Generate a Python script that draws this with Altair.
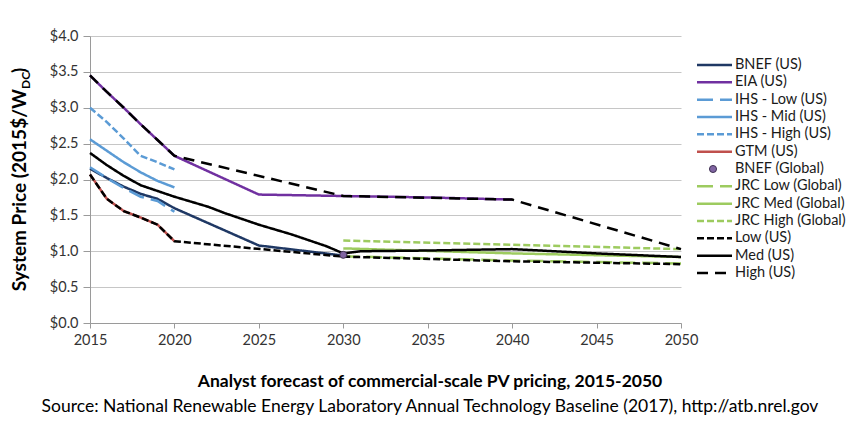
import altair as alt
import pandas as pd

FONT = "Lato"

# ---------------- data ----------------
series_names = [
    "BNEF (US)", "EIA (US)", "IHS - Low (US)", "IHS - Mid (US)", "IHS - High (US)",
    "GTM (US)", "BNEF (Global)", "JRC Low (Global)", "JRC Med (Global)",
    "JRC High (Global)", "Low (US)", "Med (US)", "High (US)",
]

bnef_us_years = [2015, 2016, 2017, 2018, 2019, 2020, 2025, 2030]
bnef_us_vals = [2.15, 2.02, 1.90, 1.80, 1.73, 1.60, 1.08, 0.94]

eia_years = [2015, 2016, 2017, 2018, 2019, 2020, 2025, 2030, 2035, 2040]
eia_vals = [3.45, 3.22, 3.00, 2.77, 2.55, 2.33, 1.79, 1.77, 1.75, 1.72]

ihs_years = [2015, 2016, 2017, 2018, 2019, 2020]
ihs_low_vals = [2.17, 2.02, 1.88, 1.76, 1.70, 1.55]
ihs_mid_vals = [2.56, 2.40, 2.24, 2.10, 1.98, 1.89]
ihs_high_vals = [3.00, 2.80, 2.57, 2.33, 2.24, 2.14]

gtm_years = [2015, 2016, 2017, 2018, 2019, 2020]
gtm_vals = [2.07, 1.73, 1.56, 1.47, 1.37, 1.14]

bnef_global_years = [2030]
bnef_global_vals = [0.95]

jrc_years = [2030, 2040, 2050]
jrc_low_vals = [0.93, 0.87, 0.83]
jrc_med_vals = [1.04, 0.97, 0.92]
jrc_high_vals = [1.15, 1.09, 1.03]

low_years = [2015, 2016, 2017, 2018, 2019, 2020, 2030, 2040, 2050]
low_vals = [2.07, 1.73, 1.56, 1.47, 1.37, 1.14, 0.925, 0.86, 0.82]

med_years = [2015, 2016, 2017, 2018, 2019, 2020, 2021, 2022, 2023, 2024, 2025,
             2026, 2027, 2028, 2029, 2030, 2031, 2035, 2040, 2045, 2050]
med_vals = [2.37, 2.20, 2.05, 1.92, 1.84, 1.76, 1.69, 1.62, 1.53, 1.45, 1.37,
            1.30, 1.23, 1.15, 1.07, 0.97, 1.00, 1.01, 1.03, 0.97, 0.92]

high_years = [2015, 2016, 2017, 2018, 2019, 2020, 2030, 2040, 2050]
high_vals = [3.45, 3.22, 3.00, 2.77, 2.55, 2.33, 1.77, 1.72, 1.03]

x_ticks = [2015, 2020, 2025, 2030, 2035, 2040, 2045, 2050]
y_ticks = [0, 0.5, 1.0, 1.5, 2.0, 2.5, 3.0, 3.5, 4.0]

# ---------------- styles ----------------
NAVY = "#1F3864"
PURPLE = "#7030A0"
BLUE = "#5B9BD5"
RED = "#C0504D"
PT = "#8064A2"
GREEN = "#9DCB5F"
BLACK = "#000000"
SOLID = [1, 0]
LONG = [16, 7]
SHORT = [7, 3]
DASH = [11, 7]

series_data = {
    "BNEF (US)": (bnef_us_years, bnef_us_vals),
    "EIA (US)": (eia_years, eia_vals),
    "IHS - Low (US)": (ihs_years, ihs_low_vals),
    "IHS - Mid (US)": (ihs_years, ihs_mid_vals),
    "IHS - High (US)": (ihs_years, ihs_high_vals),
    "GTM (US)": (gtm_years, gtm_vals),
    "BNEF (Global)": (bnef_global_years, bnef_global_vals),
    "JRC Low (Global)": (jrc_years, jrc_low_vals),
    "JRC Med (Global)": (jrc_years, jrc_med_vals),
    "JRC High (Global)": (jrc_years, jrc_high_vals),
    "Low (US)": (low_years, low_vals),
    "Med (US)": (med_years, med_vals),
    "High (US)": (high_years, high_vals),
}
style = {
    "BNEF (US)": (NAVY, SOLID),
    "EIA (US)": (PURPLE, SOLID),
    "IHS - Low (US)": (BLUE, LONG),
    "IHS - Mid (US)": (BLUE, SOLID),
    "IHS - High (US)": (BLUE, SHORT),
    "GTM (US)": (RED, SOLID),
    "BNEF (Global)": (PT, SOLID),
    "JRC Low (Global)": (GREEN, LONG),
    "JRC Med (Global)": (GREEN, SOLID),
    "JRC High (Global)": (GREEN, SHORT),
    "Low (US)": (BLACK, SHORT),
    "Med (US)": (BLACK, SOLID),
    "High (US)": (BLACK, DASH),
}

W, H = 591, 287

x_enc = alt.X(
    "year:Q",
    scale=alt.Scale(domain=[2015, 2050], nice=False, zero=False),
    axis=alt.Axis(values=x_ticks, format="d", title=None, grid=False,
                  tickSize=5, labelPadding=5, labelFlush=False, labelOverlap=False),
)
y_enc = alt.Y(
    "value:Q",
    scale=alt.Scale(domain=[0, 4], nice=False),
    axis=alt.Axis(values=y_ticks, format="$.1f", title=None, grid=True,
                  tickSize=7, labelPadding=5, labelFlush=False, labelOverlap=False),
)

layers = []
for name in series_names:
    if name == "BNEF (Global)":
        continue
    yrs, vals = series_data[name]
    df = pd.DataFrame({"year": yrs, "value": vals})
    color, dash = style[name]
    layers.append(
        alt.Chart(df).mark_line(color=color, strokeDash=dash, strokeWidth=2.5)
        .encode(x=x_enc, y=y_enc)
    )
gdf = pd.DataFrame({"year": bnef_global_years, "value": bnef_global_vals})
layers.append(
    alt.Chart(gdf).mark_point(filled=True, fill=PT, stroke="#3F3151",
                              strokeWidth=1, size=50, opacity=1)
    .encode(x=x_enc, y=y_enc)
)
main = alt.layer(*layers)

# ---------------- legend ----------------
leg_df = pd.DataFrame({"name": series_names})
leg_y = alt.Y("name:N", scale=alt.Scale(type="point", domain=series_names,
                                        range=[29, 237], padding=0), axis=None)
col_scale = alt.Scale(domain=series_names, range=[style[n][0] for n in series_names])
dash_scale = alt.Scale(domain=series_names, range=[style[n][1] for n in series_names])

leg_lines = alt.Chart(leg_df).transform_filter(
    alt.datum.name != "BNEF (Global)"
).mark_rule(strokeWidth=2.5).encode(
    x=alt.value(607), x2=alt.value(642), y=leg_y,
    color=alt.Color("name:N", scale=col_scale, legend=None),
    strokeDash=alt.StrokeDash("name:N", scale=dash_scale, legend=None),
)
leg_pt = alt.Chart(leg_df).transform_filter(
    alt.datum.name == "BNEF (Global)"
).mark_point(filled=True, fill=PT, stroke="#3F3151", strokeWidth=1, size=50,
             opacity=1).encode(x=alt.value(623), y=leg_y)
leg_text = alt.Chart(leg_df).mark_text(
    align="left", baseline="middle", font=FONT, fontSize=14.5, color="#1a1a1a"
).encode(x=alt.value(645), y=leg_y, text="name:N")
legend = alt.layer(leg_lines, leg_pt, leg_text)

# ---------------- titles ----------------
one = pd.DataFrame({"a": [0]})
ytitle_main = alt.Chart(one).mark_text(
    text="System Price  (2015$/W", angle=270, align="right", baseline="middle",
    font=FONT, fontSize=19, fontWeight="bold", color="#000000"
).encode(x=alt.value(-70), y=alt.value(53))
ytitle_sub = alt.Chart(one).mark_text(
    text="DC", angle=270, align="left", baseline="middle",
    font=FONT, fontSize=12, fontWeight="bold", color="#000000"
).encode(x=alt.value(-64), y=alt.value(53))
ytitle_end = alt.Chart(one).mark_text(
    text=")", angle=270, align="left", baseline="middle",
    font=FONT, fontSize=19, fontWeight="bold", color="#000000"
).encode(x=alt.value(-70), y=alt.value(37))
title1 = alt.Chart(one).mark_text(
    text="Analyst forecast of commercial-scale PV pricing, 2015-2050",
    align="center", baseline="middle", font=FONT, fontSize=17.5,
    fontWeight="bold", color="#000000"
).encode(x=alt.value(340), y=alt.value(346))
title2 = alt.Chart(one).mark_text(
    text="Source: National Renewable Energy Laboratory Annual Technology Baseline (2017), http://atb.nrel.gov",
    align="center", baseline="middle", font=FONT, fontSize=17.5, color="#000000"
).encode(x=alt.value(340), y=alt.value(371))
titles = alt.layer(ytitle_main, ytitle_sub, ytitle_end, title1, title2)

chart = alt.layer(main, legend, titles).resolve_scale(
    y="independent", x="independent", color="independent", strokeDash="independent"
).properties(
    width=W, height=H,
    autosize=alt.AutoSizeParams(type="none"),
    padding={"left": 82, "top": 28, "right": 166, "bottom": 100},
).configure_view(stroke=None).configure_axis(
    labelFont=FONT, labelFontSize=14.5, labelColor="#333333",
    domainColor="#9A9A9A", tickColor="#9A9A9A", gridColor="#C6C6C6",
    gridWidth=1, domainWidth=1,
)

chart.save("out.html", embed_options={"renderer": "svg", "actions": False})
